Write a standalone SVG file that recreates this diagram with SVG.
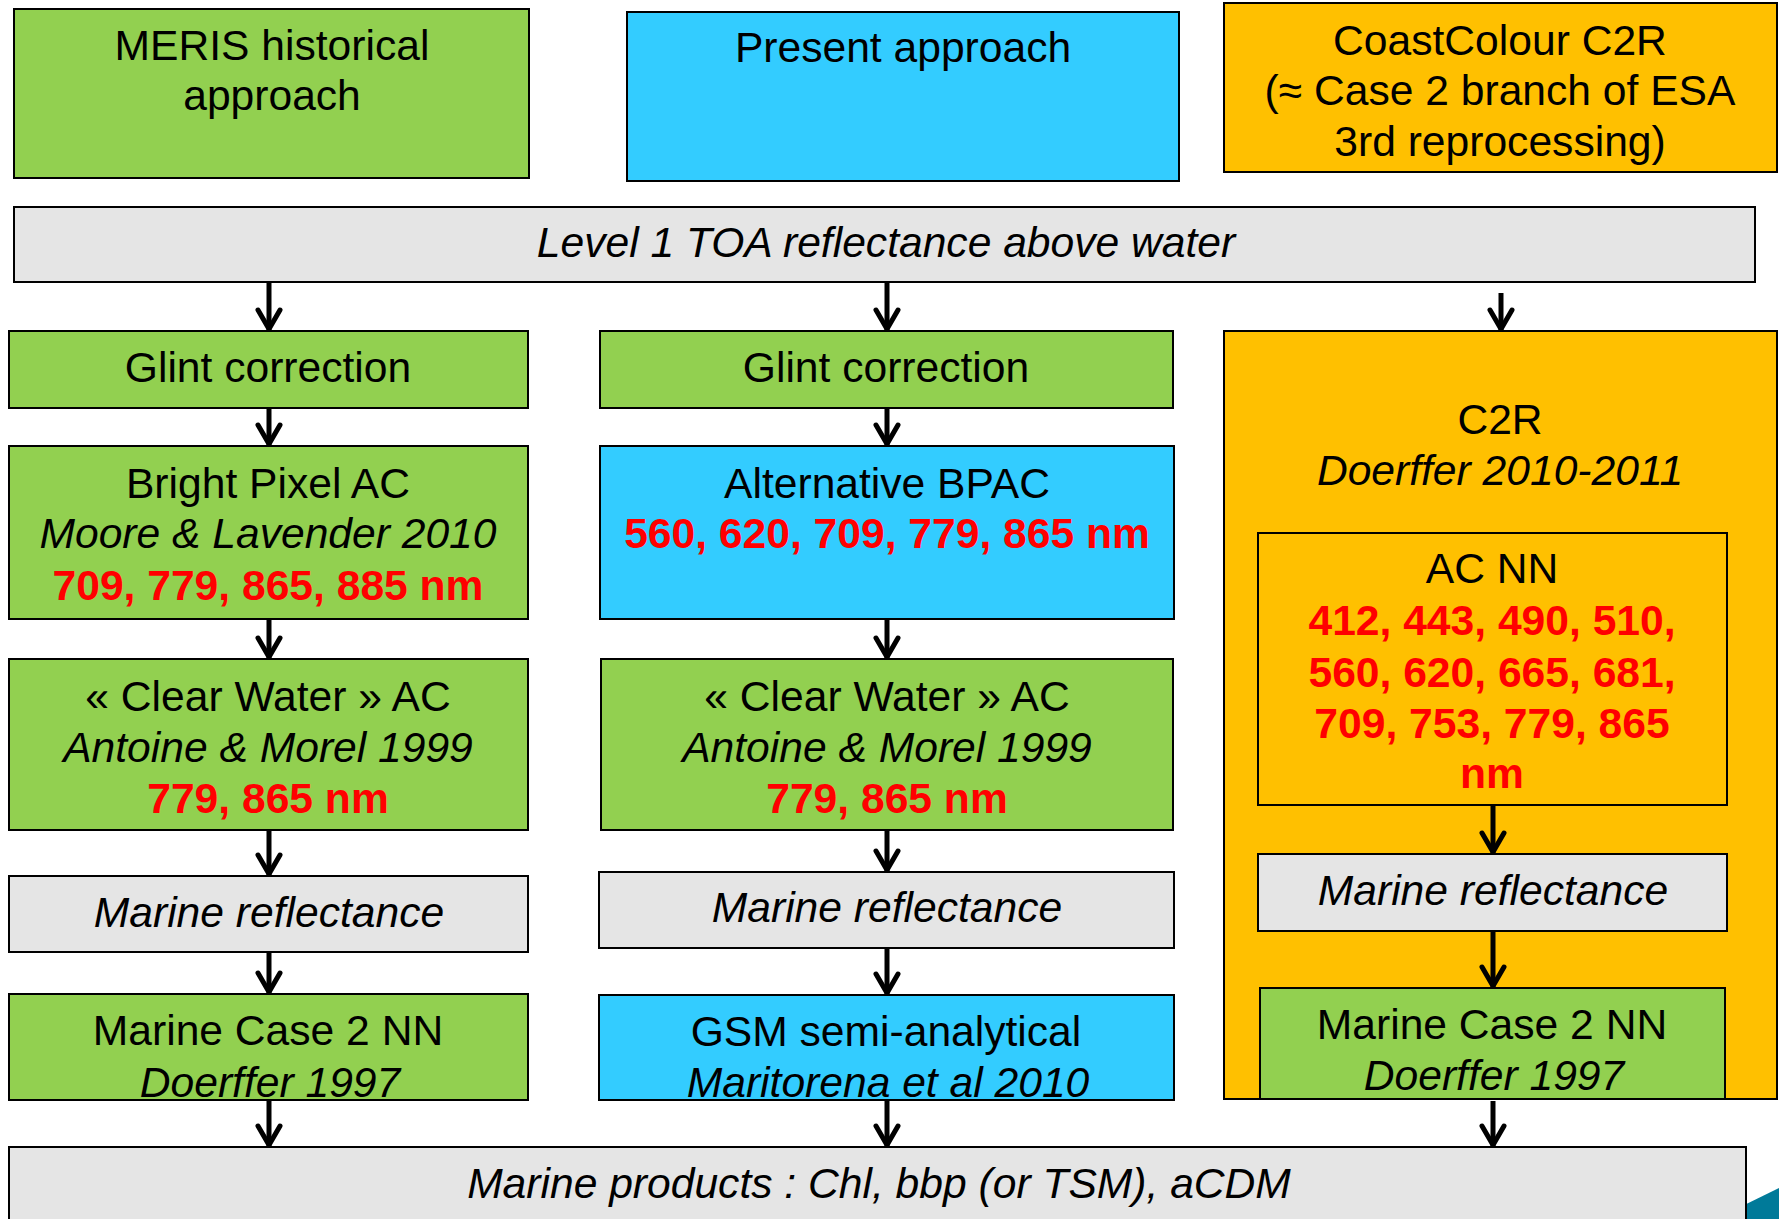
<svg xmlns="http://www.w3.org/2000/svg" width="1779" height="1219" viewBox="0 0 1779 1219">
<style>
.box{stroke:#000;stroke-width:2}
.g{fill:#92D050}.b{fill:#33CCFF}.o{fill:#FFC000}.gr{fill:#E5E5E5}
text{font-family:"Liberation Sans",Arial,Helvetica,sans-serif;font-size:42.6px;fill:#000;text-anchor:middle}
.i{font-style:italic}
.r{fill:#FF0000;font-weight:bold}
.ar{fill:none;stroke:#000;stroke-width:5;marker-end:url(#ah)}
</style>
<defs>
<marker id="ah" markerUnits="userSpaceOnUse" orient="auto" refX="0" refY="0" markerWidth="40" markerHeight="40" viewBox="-30 -20 40 40" overflow="visible">
<path d="M-20,-11 L-1,0 L-20,11" fill="none" stroke="#000" stroke-width="5" stroke-linejoin="round" stroke-linecap="round"/>
</marker>
</defs>
<rect width="1779" height="1219" fill="#fff"/>
<polygon points="1730,1219 1730,1212 1779,1188 1779,1219" fill="#007A99"/>

<g id="meris-header"><rect class="box g" x="14" y="9" width="515" height="169"/>
<text x="272" y="60">MERIS historical</text><text x="272" y="110">approach</text></g>
<g id="present-header"><rect class="box b" x="627" y="12" width="552" height="169"/>
<text x="903" y="62">Present approach</text></g>
<g id="coastcolour-header"><rect class="box o" x="1224" y="3" width="553" height="169"/>
<text x="1500" y="55">CoastColour C2R</text><text x="1500" y="105">(≈ Case 2 branch of ESA</text><text x="1500" y="156">3rd reprocessing)</text></g>
<g id="level1"><rect class="box gr" x="14" y="207" width="1741" height="75"/>
<text class="i" x="886" y="257">Level 1 TOA reflectance above water</text></g>

<g id="glint-left"><rect class="box g" x="9" y="331" width="519" height="77"/>
<text x="268" y="382">Glint correction</text></g>
<g id="glint-mid"><rect class="box g" x="600" y="331" width="573" height="77"/>
<text x="886" y="382">Glint correction</text></g>
<g id="c2r"><rect class="box o" x="1224" y="331" width="553" height="768"/>
<text x="1500" y="434">C2R</text><text class="i" x="1500" y="485">Doerffer 2010-2011</text></g>

<g id="bpac-left"><rect class="box g" x="9" y="446" width="519" height="173"/>
<text x="268" y="498">Bright Pixel AC</text><text class="i" x="268" y="548">Moore &amp; Lavender 2010</text><text class="r" x="268" y="600">709, 779, 865, 885 nm</text></g>
<g id="bpac-mid"><rect class="box b" x="600" y="446" width="574" height="173"/>
<text x="887" y="498">Alternative BPAC</text><text class="r" x="887" y="548">560, 620, 709, 779, 865 nm</text></g>
<g id="acnn"><rect class="box o" x="1258" y="533" width="469" height="272"/>
<text x="1492" y="583">AC NN</text><text class="r" x="1492" y="635">412, 443, 490, 510,</text><text class="r" x="1492" y="687">560, 620, 665, 681,</text><text class="r" x="1492" y="738">709, 753, 779, 865</text><text class="r" x="1492" y="788">nm</text></g>

<g id="clear-left"><rect class="box g" x="9" y="659" width="519" height="171"/>
<text x="268" y="711">« Clear Water » AC</text><text class="i" x="268" y="762">Antoine &amp; Morel 1999</text><text class="r" x="268" y="813">779, 865 nm</text></g>
<g id="clear-mid"><rect class="box g" x="601" y="659" width="572" height="171"/>
<text x="887" y="711">« Clear Water » AC</text><text class="i" x="887" y="762">Antoine &amp; Morel 1999</text><text class="r" x="887" y="813">779, 865 nm</text></g>

<g id="refl-left"><rect class="box gr" x="9" y="876" width="519" height="76"/>
<text class="i" x="269" y="927">Marine reflectance</text></g>
<g id="refl-mid"><rect class="box gr" x="599" y="872" width="575" height="76"/>
<text class="i" x="887" y="922">Marine reflectance</text></g>
<g id="refl-right"><rect class="box gr" x="1258" y="854" width="469" height="77"/>
<text class="i" x="1493" y="905">Marine reflectance</text></g>

<g id="case2-left"><rect class="box g" x="9" y="994" width="519" height="106"/>
<text x="268" y="1045">Marine Case 2 NN</text><text class="i" x="270" y="1097">Doerffer 1997</text></g>
<g id="gsm"><rect class="box b" x="599" y="995" width="575" height="105"/>
<text x="886" y="1046">GSM semi-analytical</text><text class="i" x="888" y="1097">Maritorena et al 2010</text></g>
<g id="case2-right"><rect class="box g" x="1260" y="988" width="465" height="111"/>
<text x="1492" y="1039">Marine Case 2 NN</text><text class="i" x="1494" y="1090">Doerffer 1997</text>
<line x1="1224" y1="1099" x2="1777" y2="1099" stroke="#000" stroke-width="2"/></g>

<g id="products"><rect class="box gr" x="9" y="1147" width="1737" height="80"/>
<text class="i" x="879" y="1198">Marine products : Chl, bbp (or TSM), aCDM</text></g>

<g id="connectors">
<path class="ar" d="M269,283 V330"/>
<path class="ar" d="M269,409 V445"/>
<path class="ar" d="M269,620 V658"/>
<path class="ar" d="M269,831 V875"/>
<path class="ar" d="M269,953 V993"/>
<path class="ar" d="M269,1101 V1146"/>
<path class="ar" d="M887,283 V330"/>
<path class="ar" d="M887,409 V445"/>
<path class="ar" d="M887,620 V658"/>
<path class="ar" d="M887,831 V871"/>
<path class="ar" d="M887,949 V994"/>
<path class="ar" d="M887,1101 V1146"/>
<path class="ar" d="M1501,293 V330"/>
<path class="ar" d="M1493,806 V853"/>
<path class="ar" d="M1493,932 V987"/>
<path class="ar" d="M1493,1101 V1146"/>
</g>
</svg>
